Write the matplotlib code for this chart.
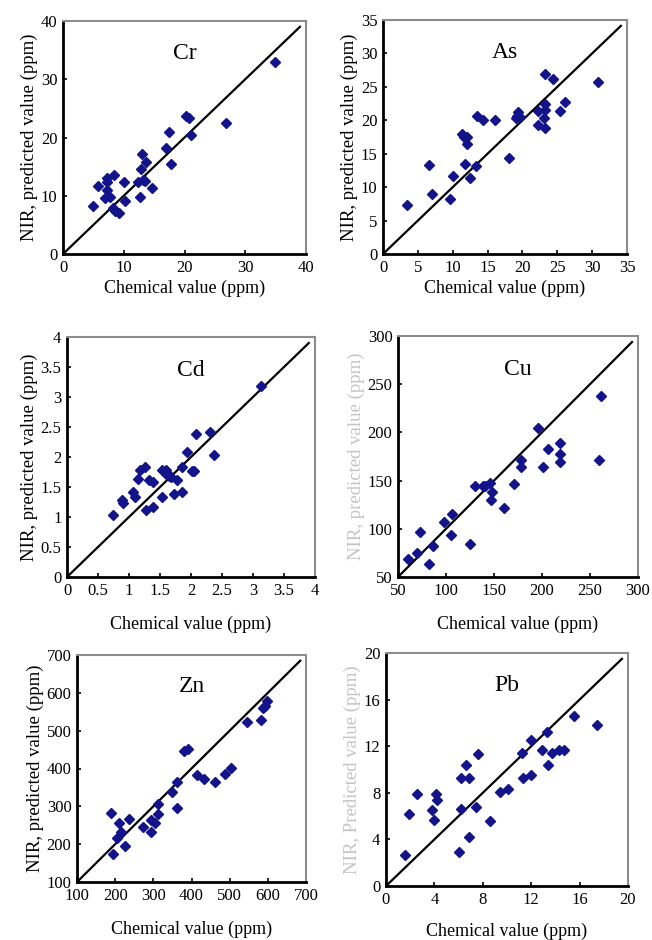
import matplotlib
matplotlib.use("Agg")
import matplotlib.pyplot as plt

plt.rcParams['font.family'] = ['Liberation Serif', 'DejaVu Serif']

# chemical (x) vs NIR predicted (y) values per element
cr_x = [34.9, 20.2, 20.7, 26.8, 21.1, 17.5, 17.0, 17.8, 13.0, 13.6, 12.9, 13.2, 13.5, 12.3,
        14.6, 12.6, 10.1, 10.2, 8.4, 7.2, 7.2, 7.2, 7.8, 6.9, 5.7, 5.0, 8.3, 8.6, 9.2]
cr_y = [33.0, 23.7, 23.4, 22.5, 20.5, 20.9, 18.2, 15.5, 17.1, 15.8, 14.6, 12.7, 12.5, 12.3,
        11.3, 9.7, 12.3, 9.1, 13.5, 13.1, 12.3, 11.0, 9.8, 9.6, 11.7, 8.3, 7.9, 7.4, 7.0]

as_x = [30.9, 23.3, 24.4, 26.1, 23.3, 23.3, 25.4, 22.2, 23.1, 22.2, 23.3, 19.3, 19.2, 19.7,
        19.1, 16.1, 14.4, 13.5, 18.1, 11.3, 11.6, 12.1, 12.0, 11.7, 13.3, 12.5, 10.1, 6.6,
        7.0, 9.6, 3.5]
as_y = [25.8, 26.9, 26.2, 22.8, 22.5, 21.6, 21.4, 21.4, 20.3, 19.3, 18.8, 21.3, 20.6, 20.5,
        20.4, 20.1, 20.1, 20.6, 14.3, 17.9, 17.5, 17.5, 16.5, 13.4, 13.1, 11.3, 11.7, 13.3,
        9.0, 8.2, 7.3]

cd_x = [3.13, 2.31, 2.37, 2.08, 1.93, 1.86, 2.01, 2.05, 1.85, 1.73, 1.78, 1.26, 1.18, 1.15,
        1.32, 1.38, 1.54, 1.59, 1.62, 1.65, 1.68, 1.60, 1.54, 1.27, 1.38, 1.07, 1.10, 0.88,
        0.90, 0.74]
cd_y = [3.18, 2.41, 2.04, 2.38, 2.09, 1.83, 1.76, 1.76, 1.42, 1.39, 1.61, 1.83, 1.79, 1.63,
        1.62, 1.58, 1.78, 1.78, 1.74, 1.68, 1.66, 1.71, 1.34, 1.11, 1.17, 1.41, 1.34, 1.29,
        1.23, 1.04]

cu_x = [261.8, 259.0, 195.8, 218.4, 218.4, 218.4, 206.0, 201.4, 178.5, 177.8, 170.8, 160.0,
        148.0, 146.5, 145.8, 140.3, 139.0, 130.2, 125.0, 106.6, 105.6, 97.6, 86.8, 82.6,
        73.3, 70.1, 60.4]
cu_y = [237.8, 171.5, 204.3, 188.8, 177.4, 169.8, 183.0, 164.6, 171.5, 164.6, 146.3, 121.5,
        137.7, 130.0, 147.4, 144.6, 144.6, 144.0, 84.2, 115.3, 93.5, 106.6, 82.5, 63.5,
        96.3, 74.9, 69.0]

zn_x = [597, 592, 588, 583, 546, 504, 488, 414, 434, 461, 381, 392, 361, 350, 361, 313, 311,
        304, 295, 293, 272, 235, 210, 216, 225, 205, 190, 194]
zn_y = [578, 566, 560, 527, 523, 401, 386, 383, 372, 364, 447, 451, 365, 337, 295, 306, 279,
        255, 265, 232, 246, 267, 257, 232, 195, 215, 283, 175]

pb_x = [17.4, 15.5, 13.3, 12.9, 13.7, 14.3, 14.7, 13.4, 12.0, 11.2, 12.0, 11.3, 10.1, 9.4,
        8.6, 7.6, 6.6, 6.2, 6.9, 7.4, 6.2, 6.9, 6.0, 4.1, 4.2, 3.8, 4.0, 2.6, 1.9, 1.6]
pb_y = [13.8, 14.6, 13.2, 11.7, 11.4, 11.7, 11.7, 10.4, 12.5, 11.4, 9.5, 9.3, 8.3, 8.1,
        5.6, 11.3, 10.4, 9.3, 9.3, 6.8, 6.6, 4.2, 2.9, 7.9, 7.4, 6.5, 5.7, 7.9, 6.2, 2.7]

W, H = 652, 940
fig = plt.figure(figsize=(W / 100, H / 100), dpi=100)

panels = [
    # name, x, y, lo, hi, ticks, tick labels, box (left, top, right, bottom px), faded ylabel, xlabel pad
    ("Cr", cr_x, cr_y, 0, 40, [0, 10, 20, 30, 40], None, (63, 21, 306, 254), False, 3),
    ("As", as_x, as_y, 0, 35, [0, 5, 10, 15, 20, 25, 30, 35], None, (383, 20, 627, 254), False, 3),
    ("Cd", cd_x, cd_y, 0, 4, [0, 0.5, 1, 1.5, 2, 2.5, 3, 3.5, 4],
     ["0", "0.5", "1", "1.5", "2", "2.5", "3", "3.5", "4"], (67, 337, 315, 577), False, 12),
    ("Cu", cu_x, cu_y, 50, 300, [50, 100, 150, 200, 250, 300], None, (398, 336, 638, 577), True, 12),
    ("Zn", zn_x, zn_y, 100, 700, [100, 200, 300, 400, 500, 600, 700], None,
     (77, 655, 306, 882), False, 12),
    ("Pb", pb_x, pb_y, 0, 20, [0, 4, 8, 12, 16, 20], None, (386, 653, 628, 886), True, 11),
]

for name, xs, ys, lo, hi, ticks, tlabels, box, faded, xpad in panels:
    l, t, r, b = box
    ax = fig.add_axes([l / W, 1 - b / H, (r - l) / W, (b - t) / H])
    ax.set_xlim(lo, hi)
    ax.set_ylim(lo, hi)
    end = lo + 0.975 * (hi - lo)
    ax.plot([lo, end], [lo, end], color='black', lw=1.6, zorder=2)
    ax.plot(xs, ys, 'D', color='#14148a', ms=5.2, mec='#14148a', zorder=3)
    ax.set_xticks(ticks)
    ax.set_yticks(ticks)
    if tlabels:
        ax.set_xticklabels(tlabels)
        ax.set_yticklabels(tlabels)
    ax.tick_params(direction='in', length=3, width=1.2, labelsize=12, pad=4)
    for s in ['left', 'bottom']:
        ax.spines[s].set_linewidth(2.0)
        ax.spines[s].set_color('black')
    for s in ['top', 'right']:
        ax.spines[s].set_linewidth(1.5)
        ax.spines[s].set_color('#8c8c8c')
    ax.text(0.5, 0.86, name, transform=ax.transAxes, ha='center', va='center', fontsize=17)
    ax.set_xlabel("Chemical value (ppm)", fontsize=13, labelpad=xpad)
    if faded:
        ylab = "NIR, predicted value (ppm)" if name == "Cu" else "NIR, Predicted value (ppm)"
        ax.set_ylabel(ylab, fontsize=13.5, color='#c4c4c4', labelpad=2)
    else:
        ax.set_ylabel("NIR, predicted value (ppm)", fontsize=13.5, labelpad=2)

fig.savefig("out.png", dpi=100)
